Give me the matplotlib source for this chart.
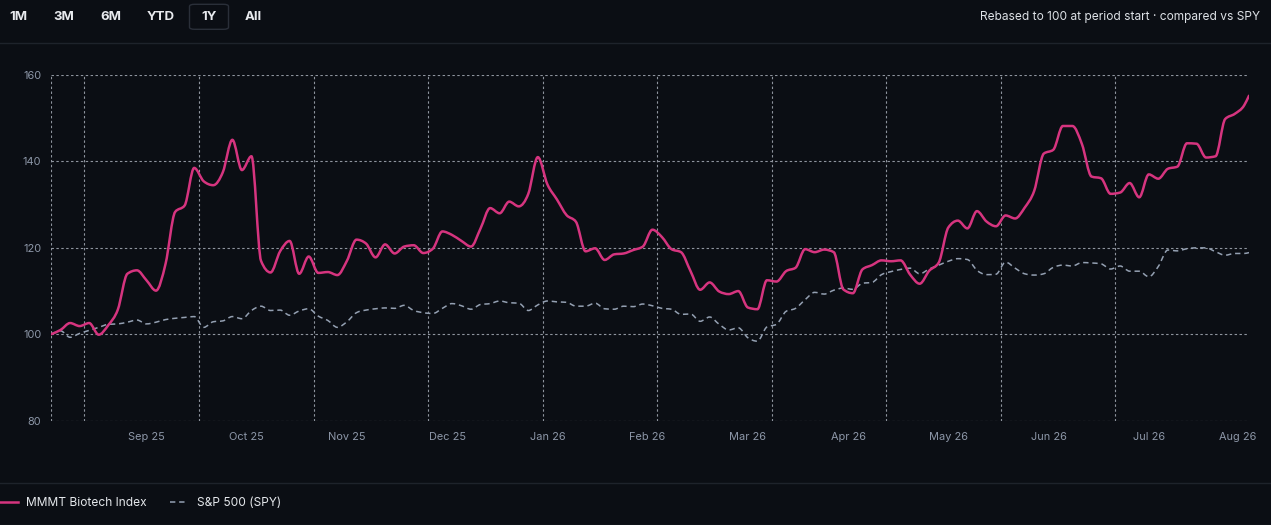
import matplotlib
matplotlib.use("Agg")
import numpy as np
import matplotlib.pyplot as plt
from matplotlib.lines import Line2D
from matplotlib.patches import FancyBboxPatch, PathPatch
from matplotlib.path import Path
from matplotlib.ticker import FixedLocator
from matplotlib.transforms import ScaledTranslation

plt.rcParams['font.family'] = ['Inter', 'DejaVu Sans']

# data: one point every 2 trading days (index into a 252-day year), last point = day 251
day_idx = list(range(0, 251, 2)) + [251]

biotech = [
    100.0, 101.0, 102.6, 101.9, 102.6, 99.9, 102.1, 105.7, 114.0, 114.8,
    112.5, 110.1, 116.3, 128.3, 129.8, 138.5, 135.4, 134.5, 137.5, 145.0,
    138.0, 141.2, 117.0, 114.3, 119.2, 121.6, 114.0, 118.0, 114.2, 114.4,
    113.7, 117.0, 121.9, 121.0, 117.8, 120.8, 118.7, 120.3, 120.6, 118.8,
    119.8, 123.8, 123.0, 121.6, 120.3, 124.5, 129.2, 128.0, 130.7, 129.6,
    132.5, 141.0, 134.7, 131.2, 127.6, 126.0, 119.2, 119.9, 117.2, 118.5,
    118.7, 119.5, 120.3, 124.2, 122.5, 119.7, 119.0, 114.6, 110.3, 112.0,
    109.9, 109.3, 110.0, 106.2, 105.8, 112.5, 112.2, 114.6, 115.4, 119.7,
    119.0, 119.6, 119.0, 110.4, 109.5, 115.0, 116.0, 117.1, 116.9, 117.1,
    113.8, 111.7, 114.7, 116.6, 124.7, 126.3, 124.5, 128.5, 126.1, 125.0,
    127.5, 126.8, 129.3, 133.2, 141.8, 142.7, 148.2, 148.2, 144.0, 136.5,
    136.1, 132.5, 132.8, 135.0, 131.7, 137.0, 136.0, 138.3, 138.8, 144.2,
    144.1, 140.9, 141.2, 149.8, 151.0, 153.0, 155.2,
]

spy = [
    100.0, 100.8, 99.3, 100.2, 100.9, 101.6, 102.3, 102.4, 102.8, 103.3,
    102.4, 102.8, 103.4, 103.7, 103.9, 104.1, 101.6, 102.9, 103.1, 104.1,
    103.6, 105.5, 106.5, 105.5, 105.6, 104.4, 105.4, 105.9, 104.2, 103.2,
    101.6, 102.9, 105.0, 105.6, 105.9, 106.1, 106.0, 106.7, 105.5, 105.0,
    104.8, 106.0, 107.1, 106.6, 105.8, 106.9, 107.1, 107.7, 107.3, 107.2,
    105.5, 106.8, 107.7, 107.5, 107.4, 106.5, 106.5, 107.2, 105.9, 105.8,
    106.5, 106.4, 107.0, 106.6, 106.0, 105.8, 104.6, 104.7, 103.0, 104.0,
    102.3, 101.0, 101.5, 99.2, 98.4, 101.7, 102.3, 105.3, 106.0, 108.0,
    109.7, 109.3, 110.2, 110.7, 110.4, 111.8, 112.0, 113.8, 114.5, 115.0,
    115.3, 114.0, 115.1, 116.0, 116.9, 117.5, 117.3, 114.8, 113.8, 113.9,
    116.7, 115.3, 114.0, 113.7, 114.0, 115.5, 116.0, 115.8, 116.6, 116.5,
    116.3, 115.1, 115.8, 114.6, 114.6, 113.3, 115.7, 119.5, 119.3, 119.8,
    120.0, 120.0, 119.1, 118.3, 118.7, 118.7, 118.9,
]

tick_labels = ['Sep 25', 'Oct 25', 'Nov 25', 'Dec 25', 'Jan 26', 'Feb 26',
               'Mar 26', 'Apr 26', 'May 26', 'Jun 26', 'Jul 26', 'Aug 26']
range_buttons = ['1M', '3M', '6M', 'YTD', '1Y', 'All']

bg = '#0b0e14'
pink = '#d6347f'
slate = '#94a0b2'
gridc = '#8e949e'


def monotone_path(xs, ys):
    # smooth monotone cubic curve through the points (like d3 curveMonotoneX)
    x = np.asarray(xs, float)
    y = np.asarray(ys, float)
    h = np.diff(x)
    d = np.diff(y) / h
    m = np.zeros_like(y)
    m[0] = d[0]
    m[-1] = d[-1]
    for i in range(1, len(y) - 1):
        if d[i - 1] * d[i] <= 0:
            m[i] = 0
        else:
            p = (d[i - 1] * h[i] + d[i] * h[i - 1]) / (h[i - 1] + h[i])
            m[i] = (np.sign(d[i - 1]) + np.sign(d[i])) * min(abs(d[i - 1]), abs(d[i]), 0.5 * abs(p))
    verts = [(x[0], y[0])]
    codes = [Path.MOVETO]
    for i in range(len(x) - 1):
        t = h[i] / 3
        verts += [(x[i] + t, y[i] + m[i] * t), (x[i + 1] - t, y[i + 1] - m[i + 1] * t), (x[i + 1], y[i + 1])]
        codes += [Path.CURVE4] * 3
    return Path(verts, codes)


fig = plt.figure(figsize=(12.71, 5.25), dpi=100, facecolor=bg)
ax = fig.add_axes([51 / 1271, 1 - 420.7 / 525, 1198 / 1271, 345.7 / 525])
ax.set_facecolor(bg)

ax.add_patch(PathPatch(monotone_path(day_idx, spy), facecolor='none', edgecolor=slate,
                       lw=1.1, ls=(0, (3.5, 2.5)), zorder=2))
ax.add_patch(PathPatch(monotone_path(day_idx, biotech), facecolor='none', edgecolor=pink,
                       lw=1.8, joinstyle='round', capstyle='round', zorder=3))

n_days = 252
ax.set_xlim(0, n_days - 1)
ax.set_ylim(80, 160)
ax.set_yticks([80, 100, 120, 140, 160])
ax.set_xticks(list(range(20, n_days, 21)))
ax.set_xticklabels(tick_labels)
grid_x = [0] + list(range(7, 230, 24)) + [n_days - 1]
ax.xaxis.set_minor_locator(FixedLocator(grid_x))

ax.grid(which='major', axis='y', color=gridc, lw=0.8, ls=(0, (2.2, 2.2)))
ax.grid(which='minor', axis='x', color=gridc, lw=0.8, ls=(0, (2.2, 2.2)))
ax.grid(which='major', axis='x', visible=False)
for s in ax.spines.values():
    s.set_visible(False)
ax.tick_params(which='both', length=0, colors='#8d97a8', labelsize=7.9)
ax.tick_params(axis='x', pad=8)
ax.tick_params(axis='y', pad=7)
# last month label is kept inside the plot edge
last = ax.get_xticklabels()[-1]
last.set_transform(last.get_transform() + ScaledTranslation(-11 / 100, 0, fig.dpi_scale_trans))

# header
btn_x = [18.5, 64, 111, 161, 209.5, 253]
for lab, x in zip(range_buttons, btn_x):
    fig.text(x / 1271, 1 - 16.7 / 525, lab, ha='center', va='center',
             color='#e8eaee', fontsize=9.5, fontweight='bold')
box = FancyBboxPatch((189.5 / 1271, 1 - 29.3 / 525), 39 / 1271, 25 / 525,
                     boxstyle='round,pad=0,rounding_size=0.004',
                     transform=fig.transFigure, facecolor=bg,
                     edgecolor='#2a2f39', lw=1.0, zorder=0)
fig.add_artist(box)
fig.text(1260 / 1271, 1 - 16.7 / 525,
         'Rebased to 100 at period start \u00b7 compared vs SPY',
         ha='right', va='center', color='#dde1e6', fontsize=8.6)

for y in (42.5, 483, 524.5):
    fig.add_artist(Line2D([0, 1], [1 - y / 525, 1 - y / 525],
                          transform=fig.transFigure, color='#1e232b', lw=1))

handles = [Line2D([], [], color=pink, lw=1.8),
           Line2D([], [], color=slate, lw=1.1, ls=(0, (3.5, 2.5)))]
fig.legend(handles, ['MMMT Biotech Index', 'S&P 500 (SPY)'],
           loc='center left', bbox_to_anchor=(-1 / 1271, 1 - 503 / 525),
           ncol=2, frameon=False, fontsize=8.6, labelcolor='#e4e7eb',
           handlelength=1.55, handletextpad=0.75, columnspacing=1.9,
           borderpad=0, borderaxespad=0)

fig.savefig('out.png', dpi=100, facecolor=bg)
